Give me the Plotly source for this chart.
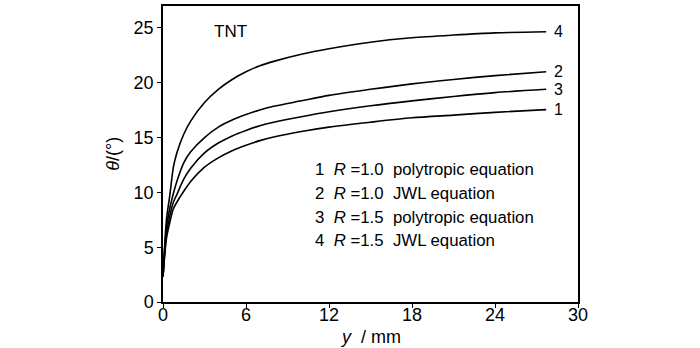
import plotly.graph_objects as go

# Sampling positions along the shock front (mm)
y_mm = [0, 0.25, 0.5, 0.75, 1, 1.5, 2, 3, 4, 5, 6, 7, 8, 10, 12, 15, 18, 21, 24, 27.7]

# Deflection angle theta (deg) for each case
theta_1 = [2.3, 5.8, 7.3, 8.5, 9.1, 10.1, 11.0, 12.3, 13.15, 13.8, 14.3, 14.72, 15.05, 15.55, 15.95, 16.4, 16.8, 17.05, 17.3, 17.55]
theta_2 = [2.3, 6.8, 8.6, 9.9, 11.0, 12.7, 13.7, 15.0, 15.95, 16.6, 17.1, 17.52, 17.85, 18.35, 18.85, 19.4, 19.9, 20.3, 20.65, 21.0]
theta_3 = [2.3, 6.2, 7.9, 9.1, 9.8, 11.2, 12.2, 13.6, 14.5, 15.15, 15.65, 16.08, 16.4, 16.9, 17.35, 17.9, 18.35, 18.75, 19.1, 19.4]
theta_4 = [2.3, 7.5, 9.8, 12.3, 13.6, 15.3, 16.5, 18.2, 19.4, 20.3, 21.0, 21.55, 21.95, 22.6, 23.1, 23.7, 24.1, 24.35, 24.55, 24.65]

curve_ids = ["1", "2", "3", "4"]
legend_lines = [
    "1  <i>R</i> =1.0  polytropic equation",
    "2  <i>R</i> =1.0  JWL equation",
    "3  <i>R</i> =1.5  polytropic equation",
    "4  <i>R</i> =1.5  JWL equation",
]

x_ticks = [0, 6, 12, 18, 24, 30]
y_ticks = [0, 5, 10, 15, 20, 25]

FONT = "Liberation Sans, Arial, sans-serif"
BLACK = "black"

fig = go.Figure()
for ys in (theta_1, theta_2, theta_3, theta_4):
    fig.add_trace(go.Scatter(x=y_mm, y=ys, mode="lines",
                             line=dict(color=BLACK, width=1.6, shape="spline", smoothing=0.8),
                             showlegend=False, hoverinfo="skip"))

# Curve numbers placed just past the end of each curve
for cid, ys in zip(curve_ids, (theta_1, theta_2, theta_3, theta_4)):
    fig.add_annotation(x=y_mm[-1], y=ys[-1], text=cid, xref="x", yref="y",
                       xanchor="left", yanchor="middle", xshift=6, showarrow=False,
                       font=dict(size=16, color=BLACK, family=FONT))

# Case descriptions
for i, txt in enumerate(legend_lines):
    fig.add_annotation(x=0.361, y=0.446 - i * 0.0795, xref="paper", yref="paper",
                       text=txt, xanchor="left", yanchor="middle", showarrow=False,
                       font=dict(size=16.8, color=BLACK, family=FONT))

fig.add_annotation(x=0.163, y=0.914, xref="paper", yref="paper", text="TNT",
                   xanchor="center", yanchor="middle", showarrow=False,
                   font=dict(size=17, color=BLACK, family=FONT))

# Axis titles
fig.add_annotation(x=0.5, y=-0.119, xref="paper", yref="paper", text="<i>y</i>  / mm",
                   xanchor="center", yanchor="middle", showarrow=False,
                   font=dict(size=18, color=BLACK, family=FONT))
fig.add_annotation(x=-0.121, y=0.5, xref="paper", yref="paper", text="<i>θ</i>/(°)",
                   xanchor="center", yanchor="middle", showarrow=False, textangle=-90,
                   font=dict(size=18, color=BLACK, family=FONT))

axis_common = dict(showline=True, linecolor=BLACK, linewidth=1.5, mirror=True,
                   ticks="outside", ticklen=4, tickwidth=1.3, tickcolor=BLACK,
                   showgrid=False, zeroline=False, automargin=False,
                   tickfont=dict(size=18, color=BLACK, family=FONT))

fig.update_xaxes(range=[0, 30], tickvals=x_ticks, ticklabelstandoff=-8, **axis_common)
fig.update_yaxes(range=[0, 27], tickvals=y_ticks, **axis_common)

fig.update_layout(width=700, height=348,
                  margin=dict(l=163, r=122, t=6, b=46, autoexpand=False),
                  paper_bgcolor="white", plot_bgcolor="white",
                  font=dict(family=FONT, color=BLACK))

fig.write_html("out.html")
